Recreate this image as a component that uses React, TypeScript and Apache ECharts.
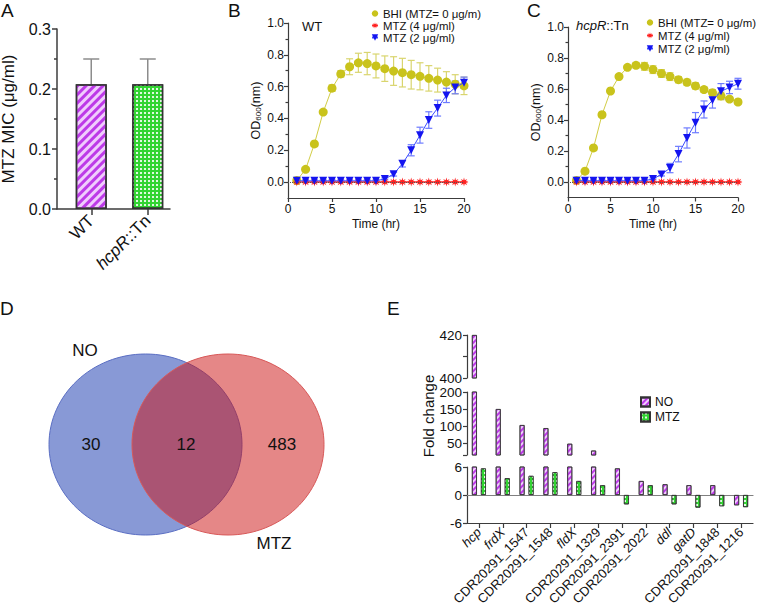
import React, { useEffect, useRef } from 'react';
import * as echarts from 'echarts';

const FONT = "'Liberation Sans', Arial, Helvetica, sans-serif";
const INK = '#111111';
const AXIS = '#3c3c3c';

// ---- A: metronidazole MIC of the two strains ----
const micStrains = ['WT', 'hcpR::Tn'];
const micMean = [0.208, 0.208];
const micSd = [0.042, 0.042];

// ---- B / C: growth curves (OD600 over time) ----
const hours = [1, 2, 3, 4, 5, 6, 7, 8, 9, 10, 11, 12, 13, 14, 15, 16, 17, 18, 19, 20];
const growthLabels = ['BHI (MTZ= 0 μg/m)', 'MTZ (4 μg/ml)', 'MTZ (2 μg/ml)'];

const wtBhi = [0.01, 0.08, 0.24, 0.44, 0.59, 0.68, 0.725, 0.75, 0.745, 0.73, 0.713, 0.698, 0.688, 0.675, 0.665, 0.652, 0.641, 0.629, 0.615, 0.605];
const wtBhiSd = [0.004, 0.008, 0.01, 0.01, 0.02, 0.02, 0.05, 0.06, 0.07, 0.075, 0.08, 0.09, 0.09, 0.09, 0.085, 0.08, 0.075, 0.065, 0.06, 0.055];
const wtMtz4 = [0, 0, 0, 0, 0, 0, 0, 0, 0, 0, 0, 0, 0, 0, 0, 0, 0, 0, 0, 0];
const wtMtz4Sd = [0.004, 0.004, 0.004, 0.004, 0.004, 0.004, 0.004, 0.004, 0.004, 0.004, 0.004, 0.004, 0.004, 0.004, 0.004, 0.004, 0.004, 0.004, 0.004, 0.004];
const wtMtz2 = [0.008, 0.008, 0.008, 0.008, 0.008, 0.008, 0.008, 0.008, 0.008, 0.008, 0.02, 0.05, 0.115, 0.2, 0.295, 0.39, 0.465, 0.545, 0.595, 0.625];
const wtMtz2Sd = [0.005, 0.005, 0.005, 0.005, 0.005, 0.005, 0.005, 0.005, 0.005, 0.005, 0.006, 0.012, 0.02, 0.035, 0.05, 0.052, 0.05, 0.045, 0.04, 0.035];

const mutBhi = [0.01, 0.07, 0.22, 0.434, 0.587, 0.68, 0.74, 0.753, 0.746, 0.725, 0.7, 0.68, 0.66, 0.643, 0.62, 0.596, 0.576, 0.555, 0.535, 0.516];
const mutBhiSd = [0.004, 0.006, 0.012, 0.015, 0.01, 0.008, 0.01, 0.018, 0.025, 0.025, 0.025, 0.025, 0.02, 0.02, 0.02, 0.018, 0.02, 0.025, 0.015, 0.015];
const mutMtz4 = [0, 0, 0, 0, 0, 0, 0, 0, 0, 0, 0, 0, 0, 0, 0, 0, 0, 0, 0, 0];
const mutMtz4Sd = [0.004, 0.004, 0.004, 0.004, 0.004, 0.004, 0.004, 0.004, 0.004, 0.004, 0.004, 0.004, 0.004, 0.004, 0.004, 0.004, 0.004, 0.004, 0.004, 0.004];
const mutMtz2 = [0.008, 0.008, 0.008, 0.008, 0.008, 0.008, 0.008, 0.008, 0.008, 0.02, 0.049, 0.09, 0.18, 0.284, 0.383, 0.468, 0.527, 0.585, 0.61, 0.634];
const mutMtz2Sd = [0.005, 0.005, 0.005, 0.005, 0.005, 0.005, 0.005, 0.005, 0.005, 0.006, 0.01, 0.03, 0.05, 0.065, 0.065, 0.055, 0.05, 0.05, 0.04, 0.035];

const odTicks = [0, 0.2, 0.4, 0.6, 0.8, 1.0];
const odMinorTicks = [0.1, 0.3, 0.5, 0.7, 0.9];

// ---- D: overlap of regulated gene sets ----
const vennSets = ['NO', 'MTZ'];
const vennCounts = [30, 12, 483];

// ---- E: fold change of the shared genes ----
const genes = ['hcp', 'frdX', 'CDR20291_1547', 'CDR20291_1548', 'fldX', 'CDR20291_1329', 'CDR20291_2391', 'CDR20291_2022', 'ddl', 'gatD', 'CDR20291_1848', 'CDR20291_1216'];
const italicGenes = ['hcp', 'frdX', 'fldX', 'ddl', 'gatD'];
const foldNO = [420, 150, 103, 94, 48, 28, 5.7, 3.0, 2.3, 2.1, 2.1, -2.2];
const foldMTZ = [5.7, 3.6, 4.1, 4.9, 3.0, 2.1, -2.0, 2.1, -2.0, -2.7, -2.4, -2.6];
const foldTopTicks = [400, 410, 420];
const foldTopLabels = [400, 420];
const foldMidTicks = [15, 50, 100, 150, 200];
const foldMidLabels = [50, 100, 150, 200];

// eight-pointed star used for the 4 μg/ml marker
function starPath(points: number, inner: number) {
  let d = '';
  for (let i = 0; i < points * 2; i++) {
    const r = i % 2 === 0 ? 1 : inner;
    const a = (Math.PI * i) / points - Math.PI / 2;
    d += (i === 0 ? 'M' : 'L') + (r * Math.cos(a)).toFixed(3) + ' ' + (r * Math.sin(a)).toFixed(3);
  }
  return 'path://' + d + 'Z';
}

// rising diagonal hatch ("////")
const stripeFill = (period: number, border: number) => ({
  color: '#f0cdfd',
  borderColor: '#333',
  borderWidth: border,
  decal: {
    symbol: 'rect',
    symbolSize: 1,
    color: '#bd3ae8',
    dashArrayX: [1, 0],
    dashArrayY: [period * 0.55, period * 0.45],
    rotation: -Math.PI / 4,
  },
});

const dotFill = (cell: number, border: number) => ({
  color: '#33d433',
  borderColor: '#333',
  borderWidth: border,
  decal: {
    symbol: 'rect',
    symbolSize: 1,
    color: 'rgba(255,255,255,0.85)',
    dashArrayX: [cell, cell],
    dashArrayY: [cell, cell],
    rotation: 0,
  },
});

const axisLine = (w: number) => ({ show: true, onZero: false, lineStyle: { color: AXIS, width: w } });
const tickStyle = (w: number) => ({ color: AXIS, width: w });

function errorBars(xIdx: number, yIdx: number, xs: any[], means: number[], sds: number[], color: string, cap: number, upOnly = false) {
  return {
    type: 'custom',
    xAxisIndex: xIdx,
    yAxisIndex: yIdx,
    silent: true,
    z: 1,
    data: xs.map((x, i) => [x, means[i], sds[i]]),
    renderItem: (_p: any, api: any) => {
      const x = api.value(0);
      const m = api.value(1);
      const s = api.value(2);
      const hi = api.coord([x, m + s]);
      const lo = api.coord([x, upOnly ? m : m - s]);
      const style = { stroke: color, lineWidth: upOnly ? 1.5 : 1.2, fill: 'none' };
      const children: any[] = [
        { type: 'line', shape: { x1: hi[0], y1: hi[1], x2: lo[0], y2: lo[1] }, style },
        { type: 'line', shape: { x1: hi[0] - cap, y1: hi[1], x2: hi[0] + cap, y2: hi[1] }, style },
      ];
      if (!upOnly) {
        children.push({ type: 'line', shape: { x1: lo[0] - cap, y1: lo[1], x2: lo[0] + cap, y2: lo[1] }, style });
      }
      return { type: 'group', children };
    },
  };
}

const growthStyles = [
  { symbol: 'circle', size: 9, rotate: 0, color: '#c9c31c', line: '#d2cd45', err: '#d9d56e', width: 1 },
  { symbol: starPath(8, 0.42), size: 9, rotate: 0, color: '#ff2020', line: '#ff3a3a', err: '#ff8a8a', width: 1.5 },
  { symbol: 'triangle', size: 8, rotate: 180, color: '#1414f0', line: '#3b4cff', err: '#6d7bff', width: 1 },
];

function growthSeries(gIdx: number, yIdx: number, sets: number[][], sds: number[][]) {
  const out: any[] = [];
  sets.forEach((vals, k) => {
    const st = growthStyles[k];
    out.push(errorBars(gIdx, yIdx, hours, vals, sds[k], st.err, 3.5));
    out.push({
      type: 'line',
      name: growthLabels[k],
      xAxisIndex: gIdx,
      yAxisIndex: yIdx,
      data: hours.map((h, i) => [h, vals[i]]),
      symbol: st.symbol,
      symbolSize: st.size,
      symbolRotate: st.rotate,
      showAllSymbol: true,
      itemStyle: { color: st.color },
      lineStyle: { color: st.line, width: st.width },
      z: 3 + k,
      markLine:
        k === 1
          ? {
              silent: true,
              symbol: 'none',
              label: { show: false },
              lineStyle: { type: 'dotted', color: '#555', width: 1 },
              data: [{ yAxis: 0 }],
            }
          : undefined,
    });
  });
  return out;
}

function odAxes(gridIndex: number) {
  return [
    {
      type: 'value',
      gridIndex,
      position: 'left',
      min: -0.1,
      max: 1.0,
      axisLine: axisLine(1.2),
      axisTick: { show: true, length: 4, customValues: odTicks, lineStyle: tickStyle(1.2) },
      axisLabel: { customValues: odTicks, formatter: (v: number) => v.toFixed(1), fontSize: 12, margin: 4, color: INK, fontFamily: FONT },
      splitLine: { show: false },
      name: 'OD{sub|600}(nm)',
      nameLocation: 'middle',
      nameGap: 26,
      nameTextStyle: {
        fontSize: 12.5,
        color: INK,
        fontFamily: FONT,
        rich: { sub: { fontSize: 8, verticalAlign: 'bottom', color: INK, fontFamily: FONT } },
      },
    },
    {
      type: 'value',
      gridIndex,
      position: 'left',
      min: -0.1,
      max: 1.0,
      axisLine: { show: false },
      axisTick: { show: true, length: 2.5, customValues: odMinorTicks, lineStyle: tickStyle(1.2) },
      axisLabel: { show: false },
      splitLine: { show: false },
    },
  ];
}

function timeAxis(gridIndex: number) {
  return {
    type: 'value',
    gridIndex,
    min: 0,
    max: 20,
    interval: 5,
    axisLine: axisLine(1.2),
    axisTick: { show: true, length: 4, lineStyle: tickStyle(1.2) },
    axisLabel: { fontSize: 12, margin: 5, color: INK, fontFamily: FONT },
    splitLine: { show: false },
    name: 'Time (hr)',
    nameLocation: 'middle',
    nameGap: 20,
    nameTextStyle: { fontSize: 12, color: INK, fontFamily: FONT },
  };
}

const geneLabel = {
  interval: 0,
  rotate: 45,
  margin: 7,
  formatter: (v: string) => (italicGenes.includes(v) ? `{i|${v}}` : `{n|${v}}`),
  rich: {
    i: { fontStyle: 'italic', fontSize: 13, fontFamily: FONT, color: INK },
    n: { fontSize: 13, fontFamily: FONT, color: INK },
  },
};

function foldBars(xIdx: number, yIdx: number) {
  return [
    { type: 'bar', name: 'NO', xAxisIndex: xIdx, yAxisIndex: yIdx, data: foldNO, barWidth: 5, barGap: '80%', itemStyle: stripeFill(3, 0.8), clip: true },
    { type: 'bar', name: 'MTZ', xAxisIndex: xIdx, yAxisIndex: yIdx, data: foldMTZ, barWidth: 5, barGap: '80%', itemStyle: dotFill(1.3, 0.8), clip: true },
  ];
}

const foldLabelStyle = { fontSize: 13.5, margin: 5, color: INK, fontFamily: FONT };

function letter(text: string, x: number, y: number) {
  return { type: 'text', x, y, style: { text, fontSize: 19, fontFamily: FONT, fill: INK, textAlign: 'left', textVerticalAlign: 'top', verticalAlign: 'top' } };
}

function plainText(text: string, x: number, y: number, size: number, align = 'center', rich?: any) {
  return {
    type: 'text',
    x,
    y,
    style: { text, fontSize: size, fontFamily: FONT, fill: INK, textAlign: align, textVerticalAlign: 'middle', verticalAlign: 'middle', rich },
  };
}

function buildOption() {
  const grids = [
    { left: 63, top: 29, width: 113, height: 180 }, // A bars
    { left: 57, top: 29, width: 113, height: 180 }, // A frame
    { left: 288, top: 23, width: 176, height: 175 }, // B
    { left: 568, top: 27, width: 170, height: 170.5 }, // C
    { left: 467, top: 335, width: 286, height: 43 }, // E upper segment
    { left: 467, top: 392, width: 286, height: 63 }, // E middle segment
    { left: 467, top: 467, width: 286, height: 56 }, // E lower segment
  ].map((g) => ({ ...g, containLabel: false, outerBoundsMode: 'none' }));

  const xAxis: any[] = [
    {
      type: 'category',
      gridIndex: 0,
      data: micStrains,
      axisLine: { show: false },
      axisTick: { show: true, alignWithLabel: true, length: 6, lineStyle: tickStyle(1.5) },
      axisLabel: {
        interval: 0,
        rotate: 45,
        margin: 9,
        fontSize: 17,
        color: INK,
        fontFamily: FONT,
        formatter: (v: string) => (v === 'hcpR::Tn' ? '{i|hcpR}::Tn' : v),
        rich: { i: { fontStyle: 'italic', fontSize: 17, fontFamily: FONT, color: INK } },
      },
      splitLine: { show: false },
    },
    {
      type: 'value',
      gridIndex: 1,
      min: 0,
      max: 1,
      axisLine: axisLine(1.5),
      axisTick: { show: false },
      axisLabel: { show: false },
      splitLine: { show: false },
    },
    timeAxis(2),
    timeAxis(3),
    { type: 'category', gridIndex: 4, data: genes, show: false },
    { type: 'category', gridIndex: 5, data: genes, show: false },
    {
      type: 'category',
      gridIndex: 6,
      data: genes,
      position: 'bottom',
      axisLine: axisLine(1.2),
      axisTick: { show: true, alignWithLabel: true, length: 5, lineStyle: tickStyle(1.2) },
      axisLabel: geneLabel,
      splitLine: { show: false },
    },
    {
      type: 'category',
      gridIndex: 6,
      data: genes,
      position: 'bottom',
      axisLine: { show: true, onZero: true, lineStyle: { color: '#808080', width: 1.2 } },
      axisTick: { show: false },
      axisLabel: { show: false },
      splitLine: { show: false },
    },
  ];

  const yAxis: any[] = [
    { type: 'value', gridIndex: 0, min: 0, max: 0.3, show: false },
    {
      type: 'value',
      gridIndex: 1,
      min: 0,
      max: 0.3,
      interval: 0.1,
      axisLine: axisLine(1.5),
      axisTick: { show: true, length: 5, lineStyle: tickStyle(1.5) },
      minorTick: { show: true, splitNumber: 2, length: 3, lineStyle: tickStyle(1.5) },
      minorSplitLine: { show: false },
      axisLabel: { fontSize: 16, margin: 6, color: INK, fontFamily: FONT, formatter: (v: number) => v.toFixed(1) },
      splitLine: { show: false },
      name: 'MTZ MIC (μg/ml)',
      nameLocation: 'middle',
      nameGap: 40,
      nameTextStyle: { fontSize: 17, color: INK, fontFamily: FONT },
    },
    ...odAxes(2),
    ...odAxes(3),
    {
      type: 'value',
      gridIndex: 4,
      min: 400,
      max: 420,
      axisLine: axisLine(1.2),
      axisTick: { show: true, length: 4, customValues: foldTopTicks, lineStyle: tickStyle(1.2) },
      axisLabel: { ...foldLabelStyle, customValues: foldTopLabels },
      splitLine: { show: false },
    },
    {
      type: 'value',
      gridIndex: 5,
      min: 15,
      max: 200,
      axisLine: axisLine(1.2),
      axisTick: { show: true, length: 4, customValues: foldMidTicks, lineStyle: tickStyle(1.2) },
      axisLabel: { ...foldLabelStyle, customValues: foldMidLabels },
      splitLine: { show: false },
    },
    {
      type: 'value',
      gridIndex: 6,
      min: -6,
      max: 6,
      interval: 6,
      axisLine: axisLine(1.2),
      axisTick: { show: true, length: 4, lineStyle: tickStyle(1.2) },
      axisLabel: foldLabelStyle,
      splitLine: { show: false },
    },
  ];

  const series: any[] = [
    {
      type: 'bar',
      xAxisIndex: 0,
      yAxisIndex: 0,
      barWidth: 31,
      data: micMean.map((v, i) => ({ value: v, itemStyle: i === 0 ? stripeFill(4.5, 1.5) : dotFill(1.6, 1.5) })),
    },
    errorBars(0, 0, micStrains, micMean, micSd, '#8c8c8c', 8, true),
    ...growthSeries(2, 2, [wtBhi, wtMtz4, wtMtz2], [wtBhiSd, wtMtz4Sd, wtMtz2Sd]),
    ...growthSeries(3, 4, [mutBhi, mutMtz4, mutMtz2], [mutBhiSd, mutMtz4Sd, mutMtz2Sd]),
    ...foldBars(4, 6),
    ...foldBars(5, 7),
    ...foldBars(6, 8),
  ];

  const legendText = { fontSize: 11.4, color: INK, fontFamily: FONT };
  const legend = [
    { data: growthLabels, orient: 'vertical', left: 371, top: 8, padding: 0, itemWidth: 6, itemHeight: 8, itemGap: 1, textStyle: legendText, selectedMode: false },
    { data: growthLabels, orient: 'vertical', left: 646, top: 17, padding: 0, itemWidth: 6, itemHeight: 8, itemGap: 2, textStyle: legendText, selectedMode: false },
    { data: ['NO', 'MTZ'], orient: 'vertical', left: 640, top: 396, padding: 0, icon: 'rect', itemWidth: 9, itemHeight: 9, itemGap: 3, textStyle: { ...legendText, fontSize: 12 }, selectedMode: false },
  ];

  const graphic: any[] = [
    letter('A', 1, 1),
    letter('B', 228, 1),
    letter('C', 527, 1),
    letter('D', 0, 299),
    letter('E', 387, 299),
    plainText('WT', 302, 26, 13, 'left'),
    plainText('{i|hcpR}::Tn', 576, 25, 13, 'left', { i: { fontStyle: 'italic', fontSize: 13, fontFamily: FONT, fill: INK } }),
    {
      type: 'text',
      x: 428,
      y: 416,
      rotation: Math.PI / 2,
      style: { text: 'Fold change', fontSize: 15, fontFamily: FONT, fill: INK, textAlign: 'center', textVerticalAlign: 'middle', verticalAlign: 'middle' },
    },
    // Venn diagram
    { type: 'ellipse', shape: { cx: 145.5, cy: 444.5, rx: 96.5, ry: 90.5 }, style: { fill: 'rgba(57,85,187,0.6)', stroke: '#5a6ec3', lineWidth: 1 } },
    { type: 'ellipse', shape: { cx: 228, cy: 444.5, rx: 96, ry: 90.5 }, style: { fill: 'rgba(203,15,15,0.5)', stroke: '#d85858', lineWidth: 1 } },
    plainText(vennSets[0], 85, 350, 17),
    plainText(vennSets[1], 274, 543, 17),
    plainText(String(vennCounts[0]), 91, 444, 17),
    plainText(String(vennCounts[1]), 186, 444, 17),
    plainText(String(vennCounts[2]), 282, 444, 17),
  ];

  return {
    animation: false,
    backgroundColor: '#ffffff',
    textStyle: { fontFamily: FONT },
    grid: grids,
    xAxis,
    yAxis,
    legend,
    series,
    graphic,
  };
}

export default function App() {
  const ref = useRef<HTMLDivElement>(null);
  useEffect(() => {
    const chart = echarts.init(ref.current!, undefined, { renderer: 'svg' });
    chart.setOption(buildOption() as any);
    return () => chart.dispose();
  }, []);
  return <div ref={ref} style={{ position: 'fixed', left: 0, top: 0, width: 757, height: 613, background: '#fff' }} />;
}
